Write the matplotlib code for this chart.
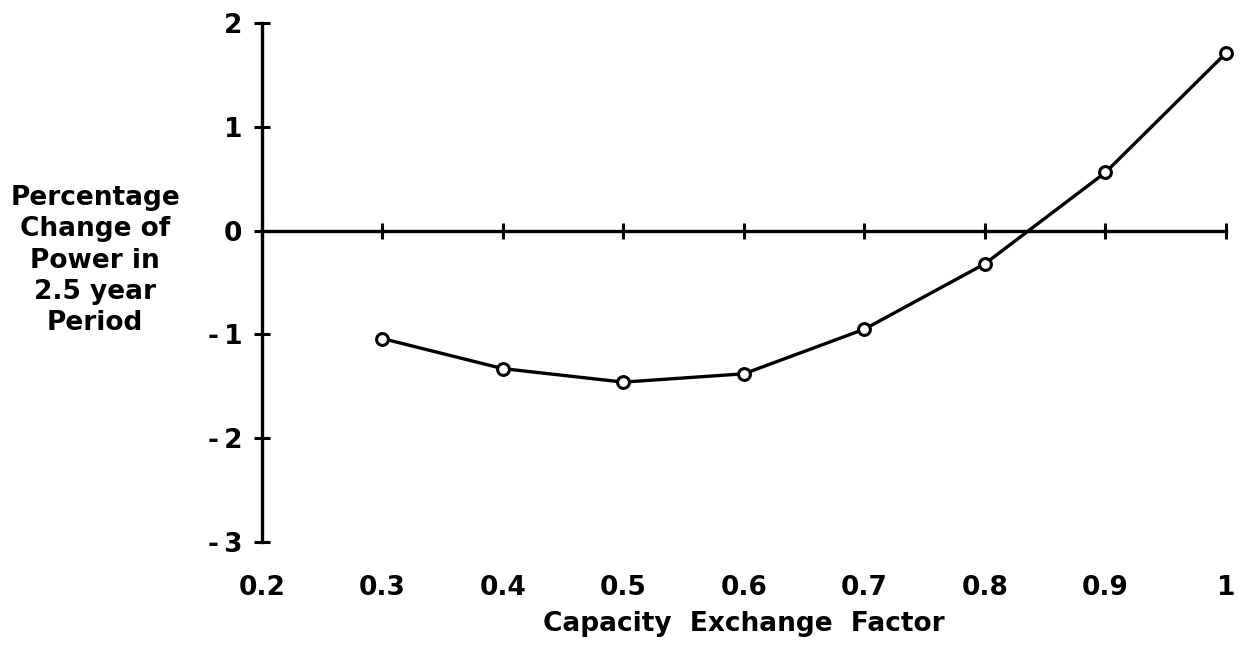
import matplotlib
matplotlib.use("Agg")
import matplotlib.pyplot as plt

# Capacity exchange factor vs. percentage change of power over 2.5 years
factor = [0.3, 0.4, 0.5, 0.6, 0.7, 0.8, 0.9, 1.0]
pct_change = [-1.04, -1.33, -1.46, -1.38, -0.95, -0.32, 0.56, 1.71]

x_ticks = [0.2, 0.3, 0.4, 0.5, 0.6, 0.7, 0.8, 0.9, 1.0]
x_tick_labels = ["0.2", "0.3", "0.4", "0.5", "0.6", "0.7", "0.8", "0.9", "1"]
y_ticks = [-3, -2, -1, 0, 1, 2]
y_tick_labels = ["-\u20093", "-\u20092", "-\u20091", "0", "1", "2"]

FONT = dict(family="DejaVu Sans", weight="bold", size=19)
LW = 2.4

fig = plt.figure(figsize=(12.41, 6.5), dpi=100)
ax = fig.add_axes([0.2109, 0.1662, 0.777, 0.7985])

ax.plot(factor, pct_change, color="black", lw=LW, marker="o", ms=8.5,
        mfc="white", mec="black", mew=2.2, clip_on=False, zorder=3)

ax.set_xlim(0.2, 1.0)
ax.set_ylim(-3, 2)

for side in ("top", "right"):
    ax.spines[side].set_visible(False)
ax.spines["left"].set_linewidth(LW)
ax.spines["bottom"].set_linewidth(LW)
ax.spines["bottom"].set_position(("data", 0))

ax.set_xticks(x_ticks)
ax.tick_params(axis="x", direction="inout", length=12, width=2.2, labelbottom=False)
ax.set_yticks(y_ticks)
ax.set_yticklabels(y_tick_labels, fontdict=FONT)
ax.tick_params(axis="y", direction="inout", length=12, width=2.2, pad=8)

# tick labels and title for the factor axis sit below the plot
sec = ax.secondary_xaxis(0)
sec.spines["bottom"].set_visible(False)
sec.set_xticks(x_ticks)
sec.set_xticklabels(x_tick_labels, fontdict=FONT)
sec.tick_params(axis="x", length=0, pad=24)
sec.set_xlabel("Capacity  Exchange  Factor", fontdict=FONT, labelpad=7)

ax.set_ylabel("Percentage\nChange of\nPower in\n2.5 year\nPeriod", fontdict=FONT,
              rotation=0, ha="center", va="center", multialignment="center",
              linespacing=1.27)
ax.yaxis.set_label_coords(-0.1729, 0.542)

fig.savefig("out.png", dpi=100, facecolor="white")
